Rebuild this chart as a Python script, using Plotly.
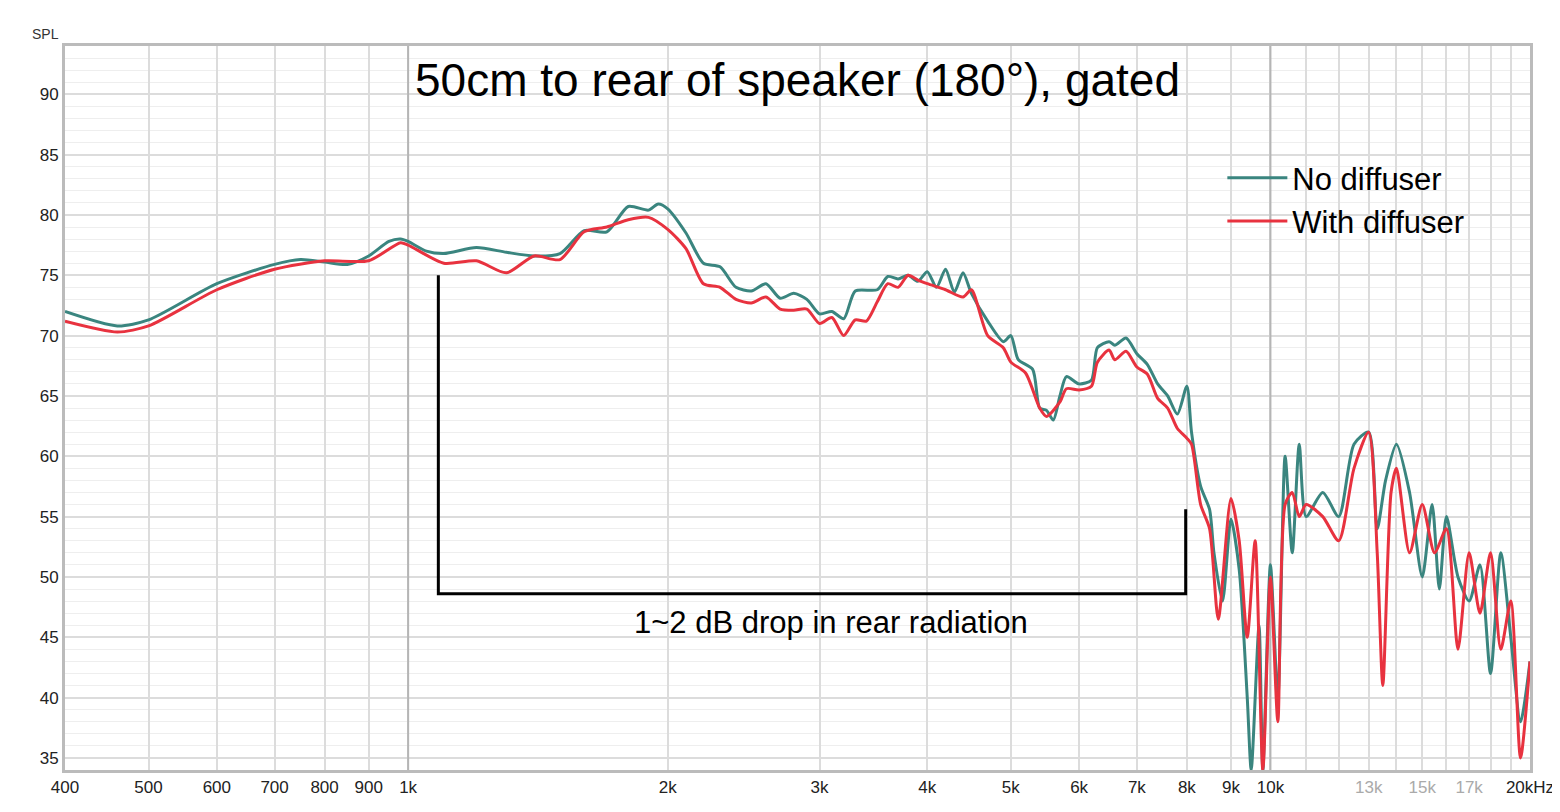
import plotly.graph_objects as go

freq_a = [400,460,500,600,700,750,800,850,900,950,980,1000,1050,1100,1200,1300,1400,1500,1600,1700,1800,1900,1950,2000,2100,2200,2300,2400,2500,2600,2700,2800,2900,3000,3100,3200,3300,3500,3600,3700,3800,3900,4000,4100,4200,4300,4400,4500,4700,4900,5000,5100,5300,5400,5500,5600,5700,5800,6000,6200,6300,6500,6600,6800,7000,7200,7400,7600,7800,8000,8100,8300,8500,8600,8800,9000,9200,9400,9500,9700,9800,10000,10200,10400,10600,10800,11000,11500,12000,12500,13000,13300,13600,14000,14500,15000,15400,15700,16000,16500,17000,17500,18000,18500,19000,19500,20000]
spl_no = [72.0,70.8,71.3,74.3,75.9,76.3,76.1,75.9,76.6,77.8,78.0,77.8,77.0,76.8,77.3,76.9,76.6,76.8,78.7,78.6,80.7,80.4,80.9,80.5,78.5,76.0,75.7,74.0,73.7,74.3,73.1,73.5,73.0,71.8,72.0,71.4,73.7,73.8,74.9,74.7,75.0,74.5,75.3,74.0,75.5,73.6,75.2,73.5,71.2,69.5,70.0,68.0,67.2,64.0,63.8,63.0,65.0,66.6,66.0,66.3,69.0,69.5,69.2,69.8,68.5,67.6,66.0,65.0,63.5,65.8,62.0,57.5,55.6,52.0,48.0,54.8,50.6,40.0,34.0,46.0,34.0,51.0,40.0,60.0,52.0,61.0,55.0,57.0,55.0,61.0,62.0,54.0,58.0,61.0,57.0,50.0,56.0,49.0,55.0,50.0,48.0,51.0,42.0,52.0,45.0,38.0,43.0]

freq_b = [400,460,500,600,700,800,900,980,1000,1100,1200,1300,1400,1500,1600,1700,1800,1900,2000,2100,2200,2300,2400,2500,2600,2700,2800,2900,3000,3100,3200,3300,3400,3500,3600,3700,3800,3900,4000,4200,4400,4500,4700,4900,5000,5200,5400,5500,5700,5800,6000,6200,6300,6500,6600,6800,7000,7200,7400,7600,7800,8000,8100,8300,8500,8700,9000,9200,9400,9600,9800,10000,10200,10400,10600,10800,11000,11500,12000,12500,13000,13300,13500,13800,14000,14500,15000,15500,16000,16500,17000,17500,18000,18500,19000,19500,20000]
spl_with = [71.2,70.3,70.8,73.8,75.5,76.2,76.2,77.7,77.5,76.0,76.2,75.2,76.6,76.3,78.6,79.0,79.6,79.8,78.8,77.2,74.3,74.0,73.0,72.7,73.2,72.2,72.1,72.2,71.0,71.5,70.0,71.3,71.2,72.8,74.3,74.0,75.0,74.6,74.3,73.8,73.2,73.8,70.0,69.0,67.8,66.9,64.0,63.3,64.5,65.6,65.5,65.8,67.8,68.8,68.0,68.7,67.4,66.8,64.8,64.0,62.3,61.5,61.0,56.0,54.0,46.5,56.5,53.0,45.0,53.0,34.0,50.0,38.0,56.0,57.0,55.0,56.0,55.0,53.0,59.0,62.0,52.0,41.0,57.0,59.0,52.0,56.0,52.0,54.0,44.0,52.0,47.0,52.0,44.0,48.0,35.0,43.0]

bracket_x = [1084,1084,7975,7975]
bracket_y = [75.0,48.6,48.6,55.6]

tick_vals = [400,500,600,700,800,900,1000,2000,3000,4000,5000,6000,7000,8000,9000,10000,11000,12000,13000,14000,15000,16000,17000,18000,19000,20000]
tick_text = ["400","500","600","700","800","900","1k","2k","3k","4k","5k","6k","7k","8k","9k","10k","","",
             "<span style='color:#aaa'>13k</span>","","<span style='color:#aaa'>15k</span>","",
             "<span style='color:#aaa'>17k</span>","","","20kHz"]

fig = go.Figure()
for xv in [1000, 10000]:
    fig.add_trace(go.Scatter(x=[xv, xv], y=[34, 94], mode="lines", line=dict(color="#b5b5b5", width=2),
                             showlegend=False, hoverinfo="skip"))
fig.add_trace(go.Scatter(x=freq_a, y=spl_no, mode="lines", name="No diffuser",
                         line=dict(color="#3a857f", width=3, shape="spline", smoothing=0.7)))
fig.add_trace(go.Scatter(x=freq_b, y=spl_with, mode="lines", name="With diffuser",
                         line=dict(color="#e8323f", width=3, shape="spline", smoothing=0.7)))
fig.add_trace(go.Scatter(x=bracket_x, y=bracket_y, mode="lines", line=dict(color="black", width=3),
                         showlegend=False))

fig.update_layout(
    width=1560, height=812, plot_bgcolor="white", paper_bgcolor="white",
    margin=dict(l=57, r=38, t=38, b=50),
    font=dict(family="Liberation Sans, Arial", color="#222"),
    legend=dict(x=0.79, y=0.855, xanchor="left", yanchor="top", font=dict(size=31, color="black"),
                bgcolor="rgba(0,0,0,0)", itemwidth=60, tracegroupgap=30),
    annotations=[
        dict(text="50cm to rear of speaker (180°), gated", x=0.5, y=1.0, xref="paper", yref="paper",
             xanchor="center", yanchor="top", yshift=-6, showarrow=False, font=dict(size=46, color="black")),
        dict(text="1~2 dB drop in rear radiation", x=3.49, y=46.2, xref="x", yref="y",
             showarrow=False, font=dict(size=31, color="black")),
        dict(text="SPL", x=-0.013, y=1.0, xref="paper", yref="paper", showarrow=False,
             xanchor="center", yanchor="bottom", yshift=2, font=dict(size=14, color="#333")),
    ],
)
fig.update_xaxes(type="log", range=[2.60206, 4.30103], tickvals=tick_vals, ticktext=tick_text,
                 showgrid=True, gridcolor="#dcdcdc", gridwidth=2, tickfont=dict(size=17, color="#222"),
                 showline=True, linecolor="#bbb", linewidth=3, mirror=True, ticks="", zeroline=False)
fig.update_yaxes(range=[34, 94], tickvals=[35,40,45,50,55,60,65,70,75,80,85,90], showgrid=True,
                 gridcolor="#dcdcdc", gridwidth=2, tickfont=dict(size=17, color="#222"),
                 minor=dict(dtick=1, showgrid=True, gridcolor="#eeeeee", gridwidth=1),
                 showline=True, linecolor="#bbb", linewidth=3, mirror=True, ticks="", zeroline=False)
fig.write_html("out.html")
